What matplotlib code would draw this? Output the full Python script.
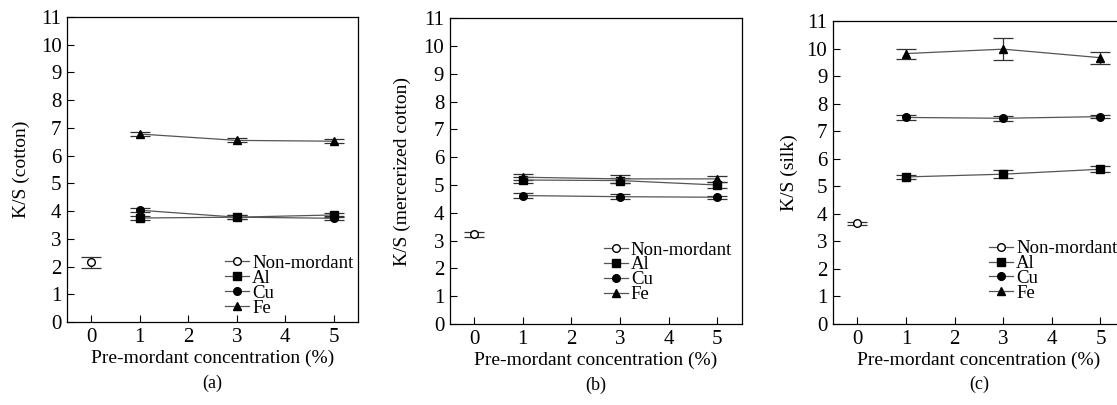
import matplotlib.pyplot as plt
from matplotlib.lines import Line2D

plt.rcParams['font.family'] = ['Liberation Serif', 'DejaVu Serif']

# concentrations
conc = [1, 3, 5]
conc0 = [0]

# (a) cotton
cot_non, cot_non_err = [2.16], [0.2]
cot_al, cot_al_err = [3.75, 3.78, 3.86], [0.08, 0.07, 0.08]
cot_cu, cot_cu_err = [4.03, 3.78, 3.74], [0.08, 0.07, 0.07]
cot_fe, cot_fe_err = [6.78, 6.55, 6.52], [0.07, 0.07, 0.08]

# (b) mercerized cotton
mer_non, mer_non_err = [3.22], [0.1]
mer_al, mer_al_err = [5.18, 5.16, 5.0], [0.1, 0.1, 0.1]
mer_cu, mer_cu_err = [4.62, 4.58, 4.56], [0.08, 0.08, 0.06]
mer_fe, mer_fe_err = [5.28, 5.22, 5.22], [0.1, 0.15, 0.1]

# (c) silk
silk_non, silk_non_err = [3.65], [0.07]
silk_al, silk_al_err = [5.34, 5.44, 5.62], [0.07, 0.15, 0.1]
silk_cu, silk_cu_err = [7.5, 7.47, 7.53], [0.08, 0.1, 0.06]
silk_fe, silk_fe_err = [9.82, 9.98, 9.67], [0.18, 0.4, 0.22]

labels = ['Non-mordant', 'Al', 'Cu', 'Fe']
ylabels = ['K/S (cotton)', 'K/S (mercerized cotton)', 'K/S (silk)']
captions = ['(a)', '(b)', '(c)']

panels = [
    [(cot_non, cot_non_err), (cot_al, cot_al_err), (cot_cu, cot_cu_err), (cot_fe, cot_fe_err)],
    [(mer_non, mer_non_err), (mer_al, mer_al_err), (mer_cu, mer_cu_err), (mer_fe, mer_fe_err)],
    [(silk_non, silk_non_err), (silk_al, silk_al_err), (silk_cu, silk_cu_err), (silk_fe, silk_fe_err)],
]

fig = plt.figure(figsize=(11.17, 4.05), dpi=100)
boxes = [[0.060, 0.205, 0.2605, 0.753],
         [0.4026, 0.200, 0.2614, 0.755],
         [0.7457, 0.200, 0.2613, 0.748]]
leg_pos = [(0.543, 0.22), (0.527, 0.27), (0.534, 0.277)]
ylab_pad = [8, 9, 6]
markers = ['o', 's', 'o', '^']
line_col = '#555555'

for i, data in enumerate(panels):
    ax = fig.add_axes(boxes[i])
    handles = []
    for j, (vals, errs) in enumerate(data):
        xs = conc0 if j == 0 else conc
        face = 'white' if j == 0 else 'black'
        ax.errorbar(xs, vals, yerr=errs, color=line_col, lw=0.9,
                    marker=markers[j], ms=5.5, mfc=face, mec='black',
                    ecolor='#333333', elinewidth=0.9, capsize=7, capthick=0.9)
        handles.append(Line2D([], [], color=line_col, lw=0.9, marker=markers[j],
                              ms=5.5, mfc=face, mec='black'))
    ax.set_xlim(-0.5, 5.5)
    ax.set_ylim(0, 11)
    ax.set_xticks(range(6))
    ax.set_yticks(range(12))
    ax.tick_params(direction='in', length=5, width=0.8, labelsize=15,
                   top=False, right=False, pad=4)
    ax.set_xlabel('Pre-mordant concentration (%)', fontsize=14, labelpad=2)
    ax.set_ylabel(ylabels[i], fontsize=14, labelpad=ylab_pad[i])
    for s in ax.spines.values():
        s.set_linewidth(0.9)
    ax.legend(handles, labels, loc='upper left', bbox_to_anchor=leg_pos[i],
              frameon=False, fontsize=13.5, handlelength=1.3, handletextpad=0.15,
              labelspacing=-0.12, borderpad=0, borderaxespad=0)
    ax.text(0.5, -0.2, captions[i], transform=ax.transAxes, ha='center',
            va='center', fontsize=13)

fig.savefig('out.png', dpi=100)
